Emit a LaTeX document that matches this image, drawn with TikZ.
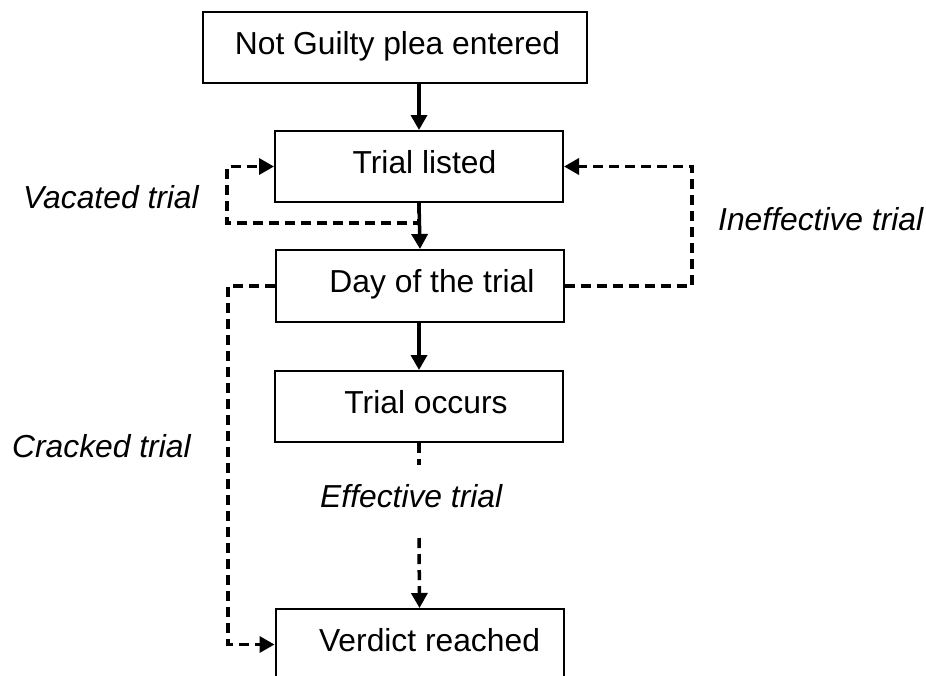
\documentclass[tikz,border=0pt]{standalone}
\usepackage{fontspec}
\setmainfont{Liberation Sans}
\usetikzlibrary{arrows.meta}
\begin{document}
\begin{tikzpicture}[x=1pt,y=-1pt,
  box/.style={draw,line width=2pt,rectangle,inner sep=0pt,minimum width=288pt,minimum height=71pt,
    font=\fontsize{31.8}{38}\selectfont,text height=22pt,text depth=9pt},
  solidarrow/.style={line width=3.5pt,-{Triangle[width=16pt,length=15pt]}},
  dashline/.style={line width=3.5pt,dash pattern=on 10pt off 6pt},
  dasharrow/.style={dashline,-{Triangle[width=16pt,length=15pt]}},
  lbl/.style={font=\fontsize{31.8}{38}\selectfont\itshape,inner sep=0pt,anchor=base west}]
\useasboundingbox (0,0) rectangle (926,675);
\node[box,minimum width=384pt] (n1) at (395,47.5) {\hspace*{5pt}Not Guilty plea entered};
\node[box] (tl) at (419,166.5) {\hspace*{11pt}Trial listed};
\node[box,minimum height=72pt] (day) at (420,286) {\hspace*{24pt}Day of the trial};
\node[box] (occ) at (419,406.5) {\hspace*{14pt}Trial occurs};
\node[box] (ver) at (419.5,644.5) {\hspace*{20pt}Verdict reached};
\coordinate (vacc) at (227,223);
\coordinate (ineff) at (692,286);
\coordinate (crk) at (228,286);
\coordinate (eff1) at (419,465);
\coordinate (eff2) at (419,538);
\draw[dasharrow] (tl.south) |- (vacc) |- (tl.west);
\draw[solidarrow] (tl.north |- n1.south) -- (tl.north);
\draw[solidarrow] (tl.south) -- (day.north);
\draw[solidarrow] (occ.north |- day.south) -- (occ.north);
\draw[dasharrow] (day.east) -- (ineff) |- (tl.east);
\draw[dasharrow] (day.west) -- (crk) |- (ver.west);
\draw[dashline] (occ.south) -- (eff1);
\draw[dasharrow] (eff2) -- (ver.north);
\node[lbl] (lvac) at (23,208) {Vacated trial};
\node[lbl] (lineff) at (718,230) {Ineffective trial};
\node[lbl] (lcrk) at (12,457) {Cracked trial};
\node[lbl] (leff) at (320,507) {Effective trial};
\end{tikzpicture}
\end{document}
